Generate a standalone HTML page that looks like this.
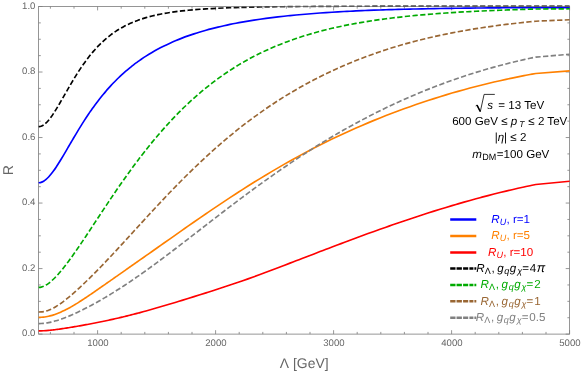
<!DOCTYPE html>
<html><head><meta charset="utf-8"><title>Plot</title>
<style>
html,body{margin:0;padding:0;background:#ffffff;}
body{width:581px;height:373px;position:relative;overflow:hidden;font-family:"Liberation Sans",sans-serif;}
</style></head><body>
<svg width="581" height="373" viewBox="0 0 581 373" style="position:absolute;left:0;top:0;will-change:transform;text-rendering:geometricPrecision">
<defs><linearGradient id="bk" gradientUnits="userSpaceOnUse" x1="215" y1="0" x2="300" y2="0"><stop offset="0" stop-color="#000000"/><stop offset="1" stop-color="#484848"/></linearGradient><clipPath id="c"><rect x="38.15" y="5.00" width="531.90" height="330.60"/></clipPath></defs>
<g stroke="#7c7c7c" stroke-width="0.8" fill="none">
<rect x="38.60" y="6.50" width="531.00" height="327.60"/>
<path d="M50.40,334.10v-2.20 M50.40,6.50v2.20"/>
<path d="M74.00,334.10v-2.20 M74.00,6.50v2.20"/>
<path d="M97.60,334.10v-3.90 M97.60,6.50v3.90"/>
<path d="M121.20,334.10v-2.20 M121.20,6.50v2.20"/>
<path d="M144.80,334.10v-2.20 M144.80,6.50v2.20"/>
<path d="M168.40,334.10v-2.20 M168.40,6.50v2.20"/>
<path d="M192.00,334.10v-2.20 M192.00,6.50v2.20"/>
<path d="M215.60,334.10v-3.90 M215.60,6.50v3.90"/>
<path d="M239.20,334.10v-2.20 M239.20,6.50v2.20"/>
<path d="M262.80,334.10v-2.20 M262.80,6.50v2.20"/>
<path d="M286.40,334.10v-2.20 M286.40,6.50v2.20"/>
<path d="M310.00,334.10v-2.20 M310.00,6.50v2.20"/>
<path d="M333.60,334.10v-3.90 M333.60,6.50v3.90"/>
<path d="M357.20,334.10v-2.20 M357.20,6.50v2.20"/>
<path d="M380.80,334.10v-2.20 M380.80,6.50v2.20"/>
<path d="M404.40,334.10v-2.20 M404.40,6.50v2.20"/>
<path d="M428.00,334.10v-2.20 M428.00,6.50v2.20"/>
<path d="M451.60,334.10v-3.90 M451.60,6.50v3.90"/>
<path d="M475.20,334.10v-2.20 M475.20,6.50v2.20"/>
<path d="M498.80,334.10v-2.20 M498.80,6.50v2.20"/>
<path d="M522.40,334.10v-2.20 M522.40,6.50v2.20"/>
<path d="M546.00,334.10v-2.20 M546.00,6.50v2.20"/>
<path d="M569.60,334.10v-3.90 M569.60,6.50v3.90"/>
<path d="M38.60,334.10h3.90 M569.60,334.10h-3.90"/>
<path d="M38.60,317.72h2.20 M569.60,317.72h-2.20"/>
<path d="M38.60,301.34h2.20 M569.60,301.34h-2.20"/>
<path d="M38.60,284.96h2.20 M569.60,284.96h-2.20"/>
<path d="M38.60,268.58h3.90 M569.60,268.58h-3.90"/>
<path d="M38.60,252.20h2.20 M569.60,252.20h-2.20"/>
<path d="M38.60,235.82h2.20 M569.60,235.82h-2.20"/>
<path d="M38.60,219.44h2.20 M569.60,219.44h-2.20"/>
<path d="M38.60,203.06h3.90 M569.60,203.06h-3.90"/>
<path d="M38.60,186.68h2.20 M569.60,186.68h-2.20"/>
<path d="M38.60,170.30h2.20 M569.60,170.30h-2.20"/>
<path d="M38.60,153.92h2.20 M569.60,153.92h-2.20"/>
<path d="M38.60,137.54h3.90 M569.60,137.54h-3.90"/>
<path d="M38.60,121.16h2.20 M569.60,121.16h-2.20"/>
<path d="M38.60,104.78h2.20 M569.60,104.78h-2.20"/>
<path d="M38.60,88.40h2.20 M569.60,88.40h-2.20"/>
<path d="M38.60,72.02h3.90 M569.60,72.02h-3.90"/>
<path d="M38.60,55.64h2.20 M569.60,55.64h-2.20"/>
<path d="M38.60,39.26h2.20 M569.60,39.26h-2.20"/>
<path d="M38.60,22.88h2.20 M569.60,22.88h-2.20"/>
<path d="M38.60,6.50h3.90 M569.60,6.50h-3.90"/>
</g>
<g fill="none" stroke-linejoin="round" clip-path="url(#c)">
<path d="M38.60,182.80 C39.02,182.73 40.27,182.66 41.10,182.40 C41.93,182.14 42.77,181.75 43.60,181.25 C44.43,180.75 45.27,180.13 46.10,179.42 C46.93,178.71 47.77,177.89 48.60,177.01 C49.43,176.12 50.27,175.14 51.10,174.10 C51.93,173.07 52.77,171.95 53.60,170.79 C54.43,169.64 55.27,168.42 56.10,167.17 C56.93,165.92 57.77,164.61 58.60,163.29 C59.43,161.97 60.27,160.61 61.10,159.24 C61.93,157.87 62.77,156.47 63.60,155.06 C64.43,153.66 65.27,152.24 66.10,150.81 C66.93,149.39 67.77,147.96 68.60,146.53 C69.43,145.11 70.27,143.67 71.10,142.25 C71.93,140.83 72.77,139.41 73.60,138.00 C74.43,136.59 75.27,135.19 76.10,133.80 C76.93,132.41 77.77,131.03 78.60,129.67 C79.43,128.30 80.27,126.95 81.10,125.62 C81.93,124.28 82.77,122.96 83.60,121.66 C84.43,120.36 85.27,119.08 86.10,117.81 C86.93,116.55 87.77,115.30 88.60,114.07 C89.43,112.84 90.27,111.63 91.10,110.43 C91.93,109.24 92.77,108.07 93.60,106.91 C94.43,105.76 95.27,104.62 96.10,103.51 C96.93,102.39 97.77,101.29 98.60,100.22 C99.43,99.14 100.27,98.08 101.10,97.04 C101.93,96.00 102.77,94.97 103.60,93.97 C104.43,92.96 105.27,91.98 106.10,91.01 C106.93,90.04 107.77,89.09 108.60,88.16 C109.43,87.23 110.27,86.31 111.10,85.41 C111.93,84.51 112.77,83.63 113.60,82.76 C114.43,81.90 115.27,81.05 116.10,80.21 C116.93,79.38 117.77,78.56 118.60,77.76 C119.43,76.95 120.27,76.16 121.10,75.39 C121.93,74.62 122.77,73.86 123.60,73.11 C124.43,72.37 125.27,71.64 126.10,70.92 C126.93,70.20 127.77,69.50 128.60,68.81 C129.43,68.12 130.27,67.44 131.10,66.78 C131.93,66.11 132.77,65.46 133.60,64.82 C134.43,64.18 135.27,63.55 136.10,62.93 C136.93,62.31 137.95,61.58 138.60,61.11 C139.25,60.64 138.77,60.96 140.00,60.12 C141.23,59.29 144.00,57.39 146.00,56.11 C148.00,54.83 150.00,53.61 152.00,52.44 C154.00,51.26 156.00,50.15 158.00,49.07 C160.00,47.99 162.00,46.97 164.00,45.98 C166.00,44.99 168.00,44.05 170.00,43.14 C172.00,42.23 174.00,41.36 176.00,40.53 C178.00,39.69 180.00,38.89 182.00,38.12 C184.00,37.35 186.00,36.61 188.00,35.90 C190.00,35.19 192.00,34.51 194.00,33.86 C196.00,33.20 198.00,32.57 200.00,31.96 C202.00,31.36 204.00,30.78 206.00,30.21 C208.00,29.65 210.00,29.12 212.00,28.60 C214.00,28.08 216.00,27.58 218.00,27.10 C220.00,26.61 222.00,26.15 224.00,25.71 C226.00,25.26 228.00,24.83 230.00,24.42 C232.00,24.00 234.00,23.60 236.00,23.22 C238.00,22.83 240.00,22.46 242.00,22.11 C244.00,21.75 246.00,21.40 248.00,21.07 C250.00,20.74 252.00,20.42 254.00,20.11 C256.00,19.80 258.00,19.50 260.00,19.21 C262.00,18.93 264.00,18.65 266.00,18.38 C268.00,18.11 270.00,17.86 272.00,17.61 C274.00,17.36 276.00,17.12 278.00,16.88 C280.00,16.65 282.00,16.43 284.00,16.21 C286.00,15.99 288.00,15.79 290.00,15.58 C292.00,15.38 294.00,15.19 296.00,15.00 C298.00,14.81 300.00,14.63 302.00,14.45 C304.00,14.28 306.00,14.11 308.00,13.95 C310.00,13.78 312.00,13.62 314.00,13.47 C316.00,13.32 318.00,13.17 320.00,13.03 C322.00,12.89 324.00,12.75 326.00,12.62 C328.00,12.49 330.00,12.36 332.00,12.23 C334.00,12.11 336.00,11.99 338.00,11.88 C340.00,11.76 342.00,11.65 344.00,11.54 C346.00,11.44 348.00,11.33 350.00,11.23 C352.00,11.13 354.00,11.04 356.00,10.94 C358.00,10.85 360.00,10.76 362.00,10.67 C364.00,10.59 366.00,10.50 368.00,10.42 C370.00,10.34 372.00,10.26 374.00,10.19 C376.00,10.11 378.00,10.04 380.00,9.97 C382.00,9.90 384.00,9.84 386.00,9.77 C388.00,9.71 390.00,9.64 392.00,9.58 C394.00,9.52 396.00,9.47 398.00,9.41 C400.00,9.35 402.00,9.30 404.00,9.25 C406.00,9.20 408.00,9.15 410.00,9.10 C412.00,9.05 414.00,9.01 416.00,8.96 C418.00,8.92 420.00,8.88 422.00,8.83 C424.00,8.79 426.00,8.75 428.00,8.72 C430.00,8.68 432.00,8.64 434.00,8.61 C436.00,8.57 438.00,8.54 440.00,8.51 C442.00,8.48 444.00,8.45 446.00,8.42 C448.00,8.39 450.00,8.36 452.00,8.33 C454.00,8.30 456.00,8.28 458.00,8.25 C460.00,8.23 462.00,8.20 464.00,8.18 C466.00,8.15 468.00,8.13 470.00,8.11 C472.00,8.08 474.00,8.06 476.00,8.04 C478.00,8.02 480.00,8.00 482.00,7.98 C484.00,7.96 486.00,7.94 488.00,7.92 C490.00,7.90 492.00,7.89 494.00,7.87 C496.00,7.85 498.00,7.84 500.00,7.82 C502.00,7.81 504.00,7.79 506.00,7.78 C508.00,7.77 510.00,7.76 512.00,7.74 C514.00,7.73 516.00,7.72 518.00,7.71 C520.00,7.70 522.00,7.69 524.00,7.69 C526.00,7.68 528.03,7.67 530.00,7.66 C531.97,7.66 534.83,7.65 535.80,7.65 L569.60,7.60" stroke="#0000ff" stroke-width="1.65"/>
<path d="M38.60,317.34 C39.02,317.33 40.27,317.32 41.10,317.27 C41.93,317.22 42.77,317.15 43.60,317.06 C44.43,316.97 45.27,316.85 46.10,316.72 C46.93,316.58 47.77,316.42 48.60,316.24 C49.43,316.06 50.27,315.86 51.10,315.63 C51.93,315.41 52.77,315.16 53.60,314.90 C54.43,314.63 55.27,314.35 56.10,314.05 C56.93,313.74 57.77,313.42 58.60,313.08 C59.43,312.74 60.27,312.39 61.10,312.01 C61.93,311.64 62.77,311.25 63.60,310.85 C64.43,310.45 65.27,310.03 66.10,309.60 C66.93,309.17 67.77,308.72 68.60,308.27 C69.43,307.81 70.27,307.34 71.10,306.87 C71.93,306.39 72.77,305.90 73.60,305.41 C74.43,304.91 75.27,304.40 76.10,303.89 C76.93,303.38 77.77,302.86 78.60,302.33 C79.43,301.81 80.27,301.27 81.10,300.73 C81.93,300.19 82.77,299.65 83.60,299.10 C84.43,298.55 85.27,298.00 86.10,297.45 C86.93,296.89 87.77,296.33 88.60,295.77 C89.43,295.20 90.27,294.64 91.10,294.07 C91.93,293.50 92.77,292.93 93.60,292.36 C94.43,291.79 95.27,291.21 96.10,290.64 C96.93,290.06 97.77,289.49 98.60,288.91 C99.43,288.33 100.27,287.75 101.10,287.17 C101.93,286.59 102.77,286.01 103.60,285.43 C104.43,284.85 105.27,284.27 106.10,283.69 C106.93,283.10 107.77,282.52 108.60,281.94 C109.43,281.36 110.27,280.77 111.10,280.19 C111.93,279.61 112.77,279.02 113.60,278.44 C114.43,277.85 115.27,277.27 116.10,276.69 C116.93,276.10 117.77,275.52 118.60,274.93 C119.43,274.35 120.27,273.77 121.10,273.18 C121.93,272.60 122.77,272.01 123.60,271.43 C124.43,270.84 125.27,270.26 126.10,269.67 C126.93,269.09 127.77,268.50 128.60,267.92 C129.43,267.33 130.27,266.75 131.10,266.16 C131.93,265.58 132.77,264.99 133.60,264.41 C134.43,263.82 135.27,263.24 136.10,262.65 C136.93,262.07 137.95,261.35 138.60,260.89 C139.25,260.44 138.77,260.78 140.00,259.91 C141.23,259.04 144.00,257.10 146.00,255.69 C148.00,254.28 150.00,252.88 152.00,251.47 C154.00,250.06 156.00,248.65 158.00,247.24 C160.00,245.83 162.00,244.43 164.00,243.02 C166.00,241.61 168.00,240.20 170.00,238.80 C172.00,237.39 174.00,235.99 176.00,234.59 C178.00,233.18 180.00,231.78 182.00,230.38 C184.00,228.98 186.00,227.59 188.00,226.19 C190.00,224.80 192.00,223.41 194.00,222.03 C196.00,220.64 198.00,219.26 200.00,217.88 C202.00,216.50 204.00,215.13 206.00,213.76 C208.00,212.40 210.00,211.03 212.00,209.68 C214.00,208.32 216.00,206.97 218.00,205.63 C220.00,204.28 222.00,202.95 224.00,201.62 C226.00,200.29 228.00,198.97 230.00,197.65 C232.00,196.34 234.00,195.03 236.00,193.73 C238.00,192.44 240.00,191.15 242.00,189.86 C244.00,188.58 246.00,187.31 248.00,186.05 C250.00,184.79 252.00,183.53 254.00,182.29 C256.00,181.04 258.00,179.81 260.00,178.58 C262.00,177.36 264.00,176.14 266.00,174.94 C268.00,173.74 270.00,172.54 272.00,171.36 C274.00,170.17 276.00,169.00 278.00,167.84 C280.00,166.67 282.00,165.52 284.00,164.38 C286.00,163.24 288.00,162.11 290.00,160.99 C292.00,159.87 294.00,158.76 296.00,157.66 C298.00,156.57 300.00,155.48 302.00,154.40 C304.00,153.33 306.00,152.26 308.00,151.21 C310.00,150.16 312.00,149.11 314.00,148.08 C316.00,147.05 318.00,146.03 320.00,145.02 C322.00,144.01 324.00,143.01 326.00,142.03 C328.00,141.04 330.00,140.06 332.00,139.10 C334.00,138.13 336.00,137.18 338.00,136.23 C340.00,135.29 342.00,134.36 344.00,133.43 C346.00,132.51 348.00,131.60 350.00,130.70 C352.00,129.80 354.00,128.91 356.00,128.03 C358.00,127.15 360.00,126.28 362.00,125.42 C364.00,124.56 366.00,123.71 368.00,122.87 C370.00,122.03 372.00,121.20 374.00,120.38 C376.00,119.56 378.00,118.75 380.00,117.95 C382.00,117.15 384.00,116.36 386.00,115.58 C388.00,114.80 390.00,114.03 392.00,113.27 C394.00,112.51 396.00,111.76 398.00,111.02 C400.00,110.27 402.00,109.54 404.00,108.81 C406.00,108.09 408.00,107.37 410.00,106.67 C412.00,105.96 414.00,105.26 416.00,104.57 C418.00,103.88 420.00,103.20 422.00,102.53 C424.00,101.86 426.00,101.20 428.00,100.54 C430.00,99.89 432.00,99.24 434.00,98.60 C436.00,97.96 438.00,97.33 440.00,96.71 C442.00,96.09 444.00,95.47 446.00,94.87 C448.00,94.26 450.00,93.67 452.00,93.08 C454.00,92.50 456.00,91.92 458.00,91.35 C460.00,90.78 462.00,90.22 464.00,89.67 C466.00,89.12 468.00,88.58 470.00,88.04 C472.00,87.51 474.00,86.99 476.00,86.47 C478.00,85.95 480.00,85.45 482.00,84.95 C484.00,84.45 486.00,83.96 488.00,83.47 C490.00,82.99 492.00,82.52 494.00,82.05 C496.00,81.59 498.00,81.13 500.00,80.68 C502.00,80.23 504.00,79.79 506.00,79.36 C508.00,78.93 510.00,78.50 512.00,78.09 C514.00,77.67 516.00,77.26 518.00,76.86 C520.00,76.46 522.00,76.07 524.00,75.68 C526.00,75.30 528.03,74.91 530.00,74.55 C531.97,74.19 534.83,73.67 535.80,73.50 L569.60,70.90" stroke="#ff8000" stroke-width="1.65"/>
<path d="M38.60,330.93 C39.02,330.93 40.27,330.92 41.10,330.90 C41.93,330.88 42.77,330.84 43.60,330.79 C44.43,330.75 45.27,330.69 46.10,330.62 C46.93,330.56 47.77,330.49 48.60,330.41 C49.43,330.33 50.27,330.24 51.10,330.15 C51.93,330.06 52.77,329.96 53.60,329.86 C54.43,329.76 55.27,329.66 56.10,329.55 C56.93,329.44 57.77,329.33 58.60,329.21 C59.43,329.09 60.27,328.98 61.10,328.85 C61.93,328.73 62.77,328.61 63.60,328.48 C64.43,328.36 65.27,328.23 66.10,328.10 C66.93,327.97 67.77,327.84 68.60,327.70 C69.43,327.57 70.27,327.43 71.10,327.30 C71.93,327.16 72.77,327.02 73.60,326.88 C74.43,326.74 75.27,326.60 76.10,326.46 C76.93,326.32 77.77,326.17 78.60,326.03 C79.43,325.88 80.27,325.73 81.10,325.59 C81.93,325.44 82.77,325.29 83.60,325.14 C84.43,324.99 85.27,324.83 86.10,324.68 C86.93,324.53 87.77,324.37 88.60,324.22 C89.43,324.06 90.27,323.90 91.10,323.74 C91.93,323.58 92.77,323.42 93.60,323.26 C94.43,323.10 95.27,322.94 96.10,322.77 C96.93,322.61 97.77,322.44 98.60,322.28 C99.43,322.11 100.27,321.94 101.10,321.77 C101.93,321.60 102.77,321.43 103.60,321.25 C104.43,321.08 105.27,320.91 106.10,320.73 C106.93,320.55 107.77,320.37 108.60,320.19 C109.43,320.01 110.27,319.83 111.10,319.65 C111.93,319.47 112.77,319.28 113.60,319.10 C114.43,318.91 115.27,318.72 116.10,318.53 C116.93,318.34 117.77,318.15 118.60,317.96 C119.43,317.76 120.27,317.57 121.10,317.37 C121.93,317.17 122.77,316.98 123.60,316.77 C124.43,316.57 125.27,316.37 126.10,316.17 C126.93,315.96 127.77,315.76 128.60,315.55 C129.43,315.34 130.27,315.13 131.10,314.92 C131.93,314.71 132.77,314.50 133.60,314.28 C134.43,314.07 135.27,313.85 136.10,313.63 C136.93,313.41 137.95,313.14 138.60,312.97 C139.25,312.80 138.77,312.93 140.00,312.60 C141.23,312.26 144.00,311.51 146.00,310.96 C148.00,310.40 150.00,309.84 152.00,309.27 C154.00,308.70 156.00,308.12 158.00,307.54 C160.00,306.96 162.00,306.37 164.00,305.78 C166.00,305.19 168.00,304.59 170.00,303.99 C172.00,303.39 174.00,302.79 176.00,302.19 C178.00,301.58 180.00,300.97 182.00,300.36 C184.00,299.75 186.00,299.14 188.00,298.52 C190.00,297.90 192.00,297.28 194.00,296.66 C196.00,296.04 198.00,295.41 200.00,294.78 C202.00,294.15 204.00,293.52 206.00,292.88 C208.00,292.24 210.00,291.61 212.00,290.96 C214.00,290.32 216.00,289.68 218.00,289.03 C220.00,288.38 222.00,287.73 224.00,287.07 C226.00,286.42 228.00,285.76 230.00,285.09 C232.00,284.42 234.00,283.75 236.00,283.07 C238.00,282.39 240.00,281.71 242.00,281.01 C244.00,280.32 246.00,279.62 248.00,278.90 C250.00,278.19 252.00,277.47 254.00,276.74 C256.00,276.02 258.00,275.28 260.00,274.54 C262.00,273.80 264.00,273.05 266.00,272.30 C268.00,271.55 270.00,270.79 272.00,270.03 C274.00,269.27 276.00,268.51 278.00,267.74 C280.00,266.98 282.00,266.21 284.00,265.44 C286.00,264.67 288.00,263.90 290.00,263.14 C292.00,262.37 294.00,261.60 296.00,260.83 C298.00,260.06 300.00,259.28 302.00,258.51 C304.00,257.74 306.00,256.97 308.00,256.20 C310.00,255.43 312.00,254.66 314.00,253.90 C316.00,253.13 318.00,252.36 320.00,251.59 C322.00,250.83 324.00,250.06 326.00,249.30 C328.00,248.54 330.00,247.77 332.00,247.01 C334.00,246.26 336.00,245.50 338.00,244.74 C340.00,243.99 342.00,243.23 344.00,242.48 C346.00,241.73 348.00,240.98 350.00,240.24 C352.00,239.49 354.00,238.75 356.00,238.01 C358.00,237.27 360.00,236.53 362.00,235.80 C364.00,235.06 366.00,234.33 368.00,233.60 C370.00,232.88 372.00,232.15 374.00,231.43 C376.00,230.71 378.00,230.00 380.00,229.29 C382.00,228.57 384.00,227.86 386.00,227.16 C388.00,226.46 390.00,225.76 392.00,225.06 C394.00,224.36 396.00,223.67 398.00,222.99 C400.00,222.30 402.00,221.62 404.00,220.94 C406.00,220.26 408.00,219.59 410.00,218.92 C412.00,218.25 414.00,217.58 416.00,216.93 C418.00,216.27 420.00,215.61 422.00,214.96 C424.00,214.31 426.00,213.67 428.00,213.03 C430.00,212.39 432.00,211.76 434.00,211.13 C436.00,210.50 438.00,209.88 440.00,209.26 C442.00,208.64 444.00,208.03 446.00,207.42 C448.00,206.81 450.00,206.21 452.00,205.62 C454.00,205.02 456.00,204.44 458.00,203.85 C460.00,203.27 462.00,202.69 464.00,202.12 C466.00,201.55 468.00,200.99 470.00,200.43 C472.00,199.87 474.00,199.32 476.00,198.78 C478.00,198.23 480.00,197.70 482.00,197.16 C484.00,196.63 486.00,196.11 488.00,195.59 C490.00,195.07 492.00,194.56 494.00,194.05 C496.00,193.55 498.00,193.05 500.00,192.56 C502.00,192.07 504.00,191.58 506.00,191.11 C508.00,190.63 510.00,190.16 512.00,189.69 C514.00,189.23 516.00,188.77 518.00,188.32 C520.00,187.87 522.00,187.43 524.00,186.99 C526.00,186.56 528.03,186.12 530.00,185.70 C531.97,185.29 534.83,184.70 535.80,184.50 L569.60,181.20" stroke="#ff0000" stroke-width="1.65"/>
<path d="M38.60,126.64 C39.02,126.58 40.27,126.54 41.10,126.27 C41.93,125.99 42.77,125.55 43.60,125.00 C44.43,124.45 45.27,123.75 46.10,122.95 C46.93,122.16 47.77,121.24 48.60,120.24 C49.43,119.25 50.27,118.15 51.10,117.00 C51.93,115.84 52.77,114.60 53.60,113.33 C54.43,112.07 55.27,110.73 56.10,109.38 C56.93,108.03 57.77,106.63 58.60,105.23 C59.43,103.82 60.27,102.38 61.10,100.95 C61.93,99.51 62.77,98.05 63.60,96.60 C64.43,95.14 65.27,93.68 66.10,92.23 C66.93,90.78 67.77,89.33 68.60,87.89 C69.43,86.45 70.27,85.02 71.10,83.60 C71.93,82.19 72.77,80.79 73.60,79.41 C74.43,78.04 75.27,76.67 76.10,75.34 C76.93,74.00 77.77,72.69 78.60,71.40 C79.43,70.11 80.27,68.85 81.10,67.61 C81.93,66.38 82.77,65.17 83.60,63.98 C84.43,62.80 85.27,61.65 86.10,60.52 C86.93,59.39 87.77,58.29 88.60,57.22 C89.43,56.15 90.27,55.11 91.10,54.09 C91.93,53.08 92.77,52.09 93.60,51.13 C94.43,50.17 95.27,49.24 96.10,48.33 C96.93,47.42 97.77,46.54 98.60,45.69 C99.43,44.83 100.27,44.00 101.10,43.20 C101.93,42.39 102.77,41.61 103.60,40.86 C104.43,40.10 105.27,39.37 106.10,38.66 C106.93,37.95 107.77,37.26 108.60,36.59 C109.43,35.93 110.27,35.28 111.10,34.66 C111.93,34.03 112.77,33.43 113.60,32.84 C114.43,32.26 115.27,31.69 116.10,31.14 C116.93,30.59 117.77,30.06 118.60,29.55 C119.43,29.04 120.27,28.54 121.10,28.06 C121.93,27.58 122.77,27.12 123.60,26.67 C124.43,26.22 125.27,25.79 126.10,25.37 C126.93,24.95 127.77,24.54 128.60,24.15 C129.43,23.76 130.27,23.38 131.10,23.02 C131.93,22.65 132.77,22.30 133.60,21.95 C134.43,21.61 135.27,21.28 136.10,20.96 C136.93,20.64 137.95,20.27 138.60,20.03 C139.25,19.80 138.77,19.94 140.00,19.54 C141.23,19.14 144.00,18.22 146.00,17.63 C148.00,17.05 150.00,16.51 152.00,16.02 C154.00,15.52 156.00,15.06 158.00,14.64 C160.00,14.22 162.00,13.83 164.00,13.47 C166.00,13.11 168.00,12.78 170.00,12.48 C172.00,12.17 174.00,11.89 176.00,11.63 C178.00,11.37 180.00,11.13 182.00,10.91 C184.00,10.68 186.00,10.48 188.00,10.29 C190.00,10.10 192.00,9.92 194.00,9.76 C196.00,9.59 198.00,9.44 200.00,9.30 C202.00,9.16 204.00,9.03 206.00,8.91 C208.00,8.79 210.00,8.67 212.00,8.57 C214.00,8.46 216.00,8.37 218.00,8.28 C220.00,8.19 222.00,8.10 224.00,8.02 C226.00,7.94 228.00,7.87 230.00,7.80 C232.00,7.73 234.00,7.67 236.00,7.61 C238.00,7.55 240.00,7.49 242.00,7.44 C244.00,7.39 246.00,7.34 248.00,7.29 C250.00,7.24 252.00,7.20 254.00,7.16 C256.00,7.12 258.00,7.08 260.00,7.05 C262.00,7.01 264.00,6.98 266.00,6.94 C268.00,6.91 270.00,6.88 272.00,6.85 C274.00,6.83 276.00,6.80 278.00,6.77 C280.00,6.75 282.00,6.73 284.00,6.70 C286.00,6.68 288.00,6.66 290.00,6.64 C292.00,6.62 294.00,6.60 296.00,6.58 C298.00,6.56 300.00,6.55 302.00,6.53 C304.00,6.51 306.00,6.50 308.00,6.48 C310.00,6.47 312.00,6.46 314.00,6.44 C316.00,6.43 318.00,6.42 320.00,6.41 C322.00,6.39 324.00,6.38 326.00,6.37 C328.00,6.36 330.00,6.35 332.00,6.34 C334.00,6.33 336.00,6.32 338.00,6.31 C340.00,6.30 342.00,6.30 344.00,6.29 C346.00,6.28 348.00,6.27 350.00,6.26 C352.00,6.26 354.00,6.25 356.00,6.24 C358.00,6.24 360.00,6.23 362.00,6.22 C364.00,6.22 366.00,6.21 368.00,6.21 C370.00,6.20 372.00,6.20 374.00,6.19 C376.00,6.19 378.00,6.18 380.00,6.18 C382.00,6.17 384.00,6.17 386.00,6.17 C388.00,6.16 390.00,6.16 392.00,6.15 C394.00,6.15 396.00,6.15 398.00,6.14 C400.00,6.14 402.00,6.14 404.00,6.14 C406.00,6.13 408.00,6.13 410.00,6.13 C412.00,6.12 414.00,6.12 416.00,6.12 C418.00,6.12 420.00,6.12 422.00,6.11 C424.00,6.11 426.00,6.11 428.00,6.11 C430.00,6.11 432.00,6.11 434.00,6.11 C436.00,6.10 438.00,6.10 440.00,6.10 C442.00,6.10 444.00,6.10 446.00,6.10 C448.00,6.10 450.00,6.10 452.00,6.10 C454.00,6.10 456.00,6.10 458.00,6.09 C460.00,6.09 462.00,6.09 464.00,6.09 C466.00,6.09 468.00,6.09 470.00,6.09 C472.00,6.09 474.00,6.09 476.00,6.09 C478.00,6.09 480.00,6.09 482.00,6.09 C484.00,6.09 486.00,6.08 488.00,6.08 C490.00,6.08 492.00,6.08 494.00,6.08 C496.00,6.08 498.00,6.08 500.00,6.08 C502.00,6.08 504.00,6.08 506.00,6.08 C508.00,6.08 510.00,6.08 512.00,6.08 C514.00,6.09 516.00,6.09 518.00,6.09 C520.00,6.09 522.00,6.09 524.00,6.09 C526.00,6.09 528.03,6.09 530.00,6.09 C531.97,6.10 534.83,6.10 535.80,6.10 L569.60,6.10" stroke="url(#bk)" stroke-width="1.65" stroke-dasharray="5.3 2.4"/>
<path d="M38.60,287.41 C39.02,287.36 40.27,287.29 41.10,287.10 C41.93,286.91 42.77,286.61 43.60,286.25 C44.43,285.90 45.27,285.45 46.10,284.96 C46.93,284.47 47.77,283.90 48.60,283.29 C49.43,282.68 50.27,282.00 51.10,281.29 C51.93,280.58 52.77,279.81 53.60,279.01 C54.43,278.21 55.27,277.36 56.10,276.49 C56.93,275.61 57.77,274.70 58.60,273.76 C59.43,272.81 60.27,271.84 61.10,270.84 C61.93,269.84 62.77,268.82 63.60,267.77 C64.43,266.72 65.27,265.65 66.10,264.56 C66.93,263.48 67.77,262.37 68.60,261.24 C69.43,260.12 70.27,258.97 71.10,257.82 C71.93,256.66 72.77,255.49 73.60,254.31 C74.43,253.13 75.27,251.93 76.10,250.73 C76.93,249.53 77.77,248.31 78.60,247.09 C79.43,245.87 80.27,244.64 81.10,243.40 C81.93,242.17 82.77,240.92 83.60,239.68 C84.43,238.43 85.27,237.18 86.10,235.92 C86.93,234.66 87.77,233.40 88.60,232.14 C89.43,230.88 90.27,229.61 91.10,228.35 C91.93,227.08 92.77,225.81 93.60,224.55 C94.43,223.28 95.27,222.01 96.10,220.74 C96.93,219.47 97.77,218.20 98.60,216.94 C99.43,215.67 100.27,214.41 101.10,213.14 C101.93,211.88 102.77,210.62 103.60,209.36 C104.43,208.10 105.27,206.85 106.10,205.60 C106.93,204.34 107.77,203.09 108.60,201.85 C109.43,200.60 110.27,199.36 111.10,198.13 C111.93,196.89 112.77,195.66 113.60,194.43 C114.43,193.20 115.27,191.98 116.10,190.76 C116.93,189.54 117.77,188.33 118.60,187.13 C119.43,185.92 120.27,184.72 121.10,183.52 C121.93,182.33 122.77,181.14 123.60,179.96 C124.43,178.77 125.27,177.60 126.10,176.43 C126.93,175.26 127.77,174.09 128.60,172.94 C129.43,171.78 130.27,170.63 131.10,169.49 C131.93,168.35 132.77,167.21 133.60,166.08 C134.43,164.95 135.27,163.83 136.10,162.72 C136.93,161.60 137.95,160.26 138.60,159.40 C139.25,158.54 138.77,159.15 140.00,157.56 C141.23,155.97 144.00,152.37 146.00,149.84 C148.00,147.31 150.00,144.83 152.00,142.39 C154.00,139.96 156.00,137.57 158.00,135.22 C160.00,132.88 162.00,130.59 164.00,128.34 C166.00,126.09 168.00,123.89 170.00,121.73 C172.00,119.58 174.00,117.47 176.00,115.41 C178.00,113.35 180.00,111.33 182.00,109.36 C184.00,107.39 186.00,105.47 188.00,103.59 C190.00,101.71 192.00,99.88 194.00,98.09 C196.00,96.30 198.00,94.56 200.00,92.86 C202.00,91.15 204.00,89.49 206.00,87.88 C208.00,86.26 210.00,84.68 212.00,83.15 C214.00,81.61 216.00,80.12 218.00,78.66 C220.00,77.20 222.00,75.79 224.00,74.41 C226.00,73.03 228.00,71.68 230.00,70.38 C232.00,69.07 234.00,67.80 236.00,66.57 C238.00,65.33 240.00,64.13 242.00,62.96 C244.00,61.80 246.00,60.66 248.00,59.56 C250.00,58.46 252.00,57.39 254.00,56.35 C256.00,55.31 258.00,54.30 260.00,53.32 C262.00,52.34 264.00,51.39 266.00,50.46 C268.00,49.54 270.00,48.64 272.00,47.77 C274.00,46.90 276.00,46.06 278.00,45.24 C280.00,44.42 282.00,43.63 284.00,42.86 C286.00,42.09 288.00,41.34 290.00,40.62 C292.00,39.89 294.00,39.19 296.00,38.51 C298.00,37.83 300.00,37.17 302.00,36.53 C304.00,35.89 306.00,35.27 308.00,34.67 C310.00,34.07 312.00,33.49 314.00,32.92 C316.00,32.36 318.00,31.81 320.00,31.28 C322.00,30.75 324.00,30.24 326.00,29.75 C328.00,29.25 330.00,28.77 332.00,28.30 C334.00,27.84 336.00,27.39 338.00,26.95 C340.00,26.52 342.00,26.09 344.00,25.68 C346.00,25.27 348.00,24.88 350.00,24.49 C352.00,24.11 354.00,23.74 356.00,23.38 C358.00,23.02 360.00,22.67 362.00,22.34 C364.00,22.00 366.00,21.67 368.00,21.36 C370.00,21.04 372.00,20.74 374.00,20.44 C376.00,20.14 378.00,19.86 380.00,19.58 C382.00,19.30 384.00,19.03 386.00,18.77 C388.00,18.51 390.00,18.26 392.00,18.02 C394.00,17.77 396.00,17.54 398.00,17.31 C400.00,17.08 402.00,16.86 404.00,16.64 C406.00,16.43 408.00,16.22 410.00,16.02 C412.00,15.82 414.00,15.63 416.00,15.44 C418.00,15.25 420.00,15.06 422.00,14.89 C424.00,14.71 426.00,14.54 428.00,14.37 C430.00,14.20 432.00,14.04 434.00,13.89 C436.00,13.73 438.00,13.58 440.00,13.43 C442.00,13.28 444.00,13.14 446.00,13.00 C448.00,12.86 450.00,12.73 452.00,12.60 C454.00,12.47 456.00,12.35 458.00,12.23 C460.00,12.11 462.00,11.99 464.00,11.88 C466.00,11.77 468.00,11.67 470.00,11.56 C472.00,11.46 474.00,11.36 476.00,11.26 C478.00,11.17 480.00,11.07 482.00,10.98 C484.00,10.89 486.00,10.80 488.00,10.72 C490.00,10.63 492.00,10.55 494.00,10.47 C496.00,10.39 498.00,10.31 500.00,10.24 C502.00,10.16 504.00,10.08 506.00,10.01 C508.00,9.94 510.00,9.87 512.00,9.80 C514.00,9.73 516.00,9.66 518.00,9.59 C520.00,9.52 522.00,9.45 524.00,9.39 C526.00,9.32 528.03,9.25 530.00,9.19 C531.97,9.12 534.83,9.03 535.80,9.00 L569.60,8.80" stroke="#00aa00" stroke-width="1.65" stroke-dasharray="5.3 2.4"/>
<path d="M38.60,312.06 C39.02,312.04 40.27,312.02 41.10,311.94 C41.93,311.86 42.77,311.74 43.60,311.59 C44.43,311.43 45.27,311.23 46.10,311.00 C46.93,310.77 47.77,310.50 48.60,310.19 C49.43,309.89 50.27,309.54 51.10,309.17 C51.93,308.79 52.77,308.38 53.60,307.94 C54.43,307.50 55.27,307.03 56.10,306.53 C56.93,306.04 57.77,305.51 58.60,304.96 C59.43,304.41 60.27,303.83 61.10,303.24 C61.93,302.65 62.77,302.03 63.60,301.40 C64.43,300.77 65.27,300.12 66.10,299.45 C66.93,298.79 67.77,298.10 68.60,297.41 C69.43,296.72 70.27,296.01 71.10,295.30 C71.93,294.58 72.77,293.85 73.60,293.12 C74.43,292.38 75.27,291.63 76.10,290.88 C76.93,290.13 77.77,289.37 78.60,288.60 C79.43,287.83 80.27,287.05 81.10,286.27 C81.93,285.49 82.77,284.70 83.60,283.90 C84.43,283.11 85.27,282.31 86.10,281.50 C86.93,280.69 87.77,279.88 88.60,279.06 C89.43,278.25 90.27,277.42 91.10,276.60 C91.93,275.77 92.77,274.94 93.60,274.10 C94.43,273.27 95.27,272.42 96.10,271.58 C96.93,270.73 97.77,269.88 98.60,269.03 C99.43,268.18 100.27,267.32 101.10,266.46 C101.93,265.59 102.77,264.73 103.60,263.86 C104.43,262.99 105.27,262.12 106.10,261.24 C106.93,260.37 107.77,259.49 108.60,258.60 C109.43,257.72 110.27,256.83 111.10,255.95 C111.93,255.06 112.77,254.17 113.60,253.27 C114.43,252.38 115.27,251.48 116.10,250.59 C116.93,249.69 117.77,248.79 118.60,247.88 C119.43,246.98 120.27,246.08 121.10,245.17 C121.93,244.27 122.77,243.36 123.60,242.45 C124.43,241.54 125.27,240.64 126.10,239.72 C126.93,238.81 127.77,237.90 128.60,236.99 C129.43,236.08 130.27,235.17 131.10,234.26 C131.93,233.34 132.77,232.43 133.60,231.52 C134.43,230.60 135.27,229.69 136.10,228.78 C136.93,227.86 137.95,226.75 138.60,226.04 C139.25,225.33 138.77,225.85 140.00,224.51 C141.23,223.16 144.00,220.13 146.00,217.95 C148.00,215.78 150.00,213.60 152.00,211.44 C154.00,209.28 156.00,207.12 158.00,204.98 C160.00,202.84 162.00,200.71 164.00,198.60 C166.00,196.49 168.00,194.38 170.00,192.30 C172.00,190.22 174.00,188.15 176.00,186.10 C178.00,184.06 180.00,182.03 182.00,180.02 C184.00,178.01 186.00,176.01 188.00,174.04 C190.00,172.07 192.00,170.12 194.00,168.19 C196.00,166.26 198.00,164.36 200.00,162.47 C202.00,160.58 204.00,158.72 206.00,156.88 C208.00,155.03 210.00,153.21 212.00,151.42 C214.00,149.62 216.00,147.84 218.00,146.09 C220.00,144.34 222.00,142.61 224.00,140.91 C226.00,139.21 228.00,137.53 230.00,135.87 C232.00,134.22 234.00,132.58 236.00,130.98 C238.00,129.37 240.00,127.78 242.00,126.22 C244.00,124.66 246.00,123.13 248.00,121.62 C250.00,120.10 252.00,118.61 254.00,117.15 C256.00,115.68 258.00,114.24 260.00,112.82 C262.00,111.40 264.00,110.01 266.00,108.63 C268.00,107.26 270.00,105.91 272.00,104.58 C274.00,103.25 276.00,101.95 278.00,100.66 C280.00,99.38 282.00,98.11 284.00,96.87 C286.00,95.63 288.00,94.41 290.00,93.21 C292.00,92.01 294.00,90.84 296.00,89.68 C298.00,88.52 300.00,87.38 302.00,86.26 C304.00,85.14 306.00,84.05 308.00,82.97 C310.00,81.89 312.00,80.83 314.00,79.79 C316.00,78.75 318.00,77.73 320.00,76.72 C322.00,75.72 324.00,74.73 326.00,73.77 C328.00,72.80 330.00,71.85 332.00,70.92 C334.00,69.99 336.00,69.07 338.00,68.17 C340.00,67.28 342.00,66.40 344.00,65.53 C346.00,64.67 348.00,63.82 350.00,62.99 C352.00,62.16 354.00,61.35 356.00,60.55 C358.00,59.75 360.00,58.96 362.00,58.20 C364.00,57.43 366.00,56.68 368.00,55.94 C370.00,55.20 372.00,54.48 374.00,53.77 C376.00,53.07 378.00,52.38 380.00,51.70 C382.00,51.02 384.00,50.36 386.00,49.71 C388.00,49.06 390.00,48.42 392.00,47.80 C394.00,47.18 396.00,46.58 398.00,45.98 C400.00,45.39 402.00,44.81 404.00,44.24 C406.00,43.68 408.00,43.12 410.00,42.58 C412.00,42.04 414.00,41.51 416.00,41.00 C418.00,40.48 420.00,39.97 422.00,39.48 C424.00,38.99 426.00,38.51 428.00,38.04 C430.00,37.57 432.00,37.11 434.00,36.66 C436.00,36.21 438.00,35.77 440.00,35.34 C442.00,34.91 444.00,34.50 446.00,34.09 C448.00,33.68 450.00,33.28 452.00,32.89 C454.00,32.50 456.00,32.12 458.00,31.75 C460.00,31.38 462.00,31.02 464.00,30.67 C466.00,30.32 468.00,29.97 470.00,29.64 C472.00,29.30 474.00,28.97 476.00,28.65 C478.00,28.33 480.00,28.02 482.00,27.72 C484.00,27.41 486.00,27.12 488.00,26.83 C490.00,26.54 492.00,26.26 494.00,25.98 C496.00,25.71 498.00,25.44 500.00,25.18 C502.00,24.92 504.00,24.67 506.00,24.42 C508.00,24.17 510.00,23.93 512.00,23.70 C514.00,23.47 516.00,23.24 518.00,23.02 C520.00,22.80 522.00,22.58 524.00,22.37 C526.00,22.16 528.03,21.95 530.00,21.76 C531.97,21.56 534.83,21.29 535.80,21.20 L569.60,19.75" stroke="#996633" stroke-width="1.65" stroke-dasharray="5.3 2.4"/>
<path d="M38.60,323.58 C39.02,323.56 40.27,323.55 41.10,323.50 C41.93,323.46 42.77,323.40 43.60,323.31 C44.43,323.23 45.27,323.13 46.10,323.01 C46.93,322.89 47.77,322.75 48.60,322.60 C49.43,322.44 50.27,322.27 51.10,322.08 C51.93,321.89 52.77,321.69 53.60,321.47 C54.43,321.26 55.27,321.02 56.10,320.78 C56.93,320.54 57.77,320.28 58.60,320.01 C59.43,319.74 60.27,319.46 61.10,319.17 C61.93,318.88 62.77,318.57 63.60,318.26 C64.43,317.95 65.27,317.63 66.10,317.30 C66.93,316.97 67.77,316.63 68.60,316.29 C69.43,315.94 70.27,315.59 71.10,315.23 C71.93,314.87 72.77,314.50 73.60,314.12 C74.43,313.75 75.27,313.37 76.10,312.98 C76.93,312.59 77.77,312.20 78.60,311.80 C79.43,311.40 80.27,311.00 81.10,310.59 C81.93,310.18 82.77,309.77 83.60,309.35 C84.43,308.93 85.27,308.50 86.10,308.07 C86.93,307.64 87.77,307.21 88.60,306.77 C89.43,306.33 90.27,305.89 91.10,305.44 C91.93,304.99 92.77,304.54 93.60,304.08 C94.43,303.63 95.27,303.16 96.10,302.70 C96.93,302.24 97.77,301.77 98.60,301.29 C99.43,300.82 100.27,300.34 101.10,299.86 C101.93,299.38 102.77,298.90 103.60,298.41 C104.43,297.92 105.27,297.43 106.10,296.93 C106.93,296.43 107.77,295.93 108.60,295.43 C109.43,294.92 110.27,294.42 111.10,293.91 C111.93,293.39 112.77,292.88 113.60,292.36 C114.43,291.84 115.27,291.32 116.10,290.79 C116.93,290.27 117.77,289.74 118.60,289.21 C119.43,288.68 120.27,288.14 121.10,287.60 C121.93,287.06 122.77,286.52 123.60,285.97 C124.43,285.43 125.27,284.88 126.10,284.33 C126.93,283.77 127.77,283.22 128.60,282.66 C129.43,282.10 130.27,281.54 131.10,280.98 C131.93,280.41 132.77,279.84 133.60,279.27 C134.43,278.70 135.27,278.13 136.10,277.55 C136.93,276.98 137.95,276.27 138.60,275.82 C139.25,275.37 138.77,275.71 140.00,274.84 C141.23,273.97 144.00,272.02 146.00,270.59 C148.00,269.16 150.00,267.71 152.00,266.25 C154.00,264.80 156.00,263.32 158.00,261.84 C160.00,260.36 162.00,258.87 164.00,257.37 C166.00,255.87 168.00,254.36 170.00,252.85 C172.00,251.33 174.00,249.81 176.00,248.28 C178.00,246.75 180.00,245.22 182.00,243.68 C184.00,242.14 186.00,240.59 188.00,239.05 C190.00,237.50 192.00,235.95 194.00,234.41 C196.00,232.86 198.00,231.30 200.00,229.75 C202.00,228.20 204.00,226.65 206.00,225.10 C208.00,223.55 210.00,222.01 212.00,220.46 C214.00,218.92 216.00,217.37 218.00,215.83 C220.00,214.29 222.00,212.76 224.00,211.23 C226.00,209.70 228.00,208.17 230.00,206.65 C232.00,205.13 234.00,203.62 236.00,202.11 C238.00,200.60 240.00,199.10 242.00,197.61 C244.00,196.11 246.00,194.62 248.00,193.15 C250.00,191.67 252.00,190.19 254.00,188.73 C256.00,187.27 258.00,185.81 260.00,184.37 C262.00,182.92 264.00,181.49 266.00,180.06 C268.00,178.63 270.00,177.22 272.00,175.81 C274.00,174.40 276.00,173.00 278.00,171.61 C280.00,170.22 282.00,168.85 284.00,167.48 C286.00,166.11 288.00,164.75 290.00,163.41 C292.00,162.06 294.00,160.72 296.00,159.40 C298.00,158.07 300.00,156.76 302.00,155.46 C304.00,154.15 306.00,152.86 308.00,151.58 C310.00,150.30 312.00,149.03 314.00,147.78 C316.00,146.52 318.00,145.28 320.00,144.05 C322.00,142.81 324.00,141.59 326.00,140.38 C328.00,139.18 330.00,137.98 332.00,136.80 C334.00,135.61 336.00,134.44 338.00,133.28 C340.00,132.12 342.00,130.97 344.00,129.84 C346.00,128.71 348.00,127.58 350.00,126.47 C352.00,125.36 354.00,124.26 356.00,123.18 C358.00,122.09 360.00,121.02 362.00,119.96 C364.00,118.90 366.00,117.85 368.00,116.81 C370.00,115.78 372.00,114.75 374.00,113.74 C376.00,112.73 378.00,111.73 380.00,110.74 C382.00,109.76 384.00,108.78 386.00,107.82 C388.00,106.86 390.00,105.91 392.00,104.97 C394.00,104.03 396.00,103.10 398.00,102.19 C400.00,101.27 402.00,100.37 404.00,99.48 C406.00,98.59 408.00,97.71 410.00,96.84 C412.00,95.98 414.00,95.12 416.00,94.28 C418.00,93.44 420.00,92.61 422.00,91.79 C424.00,90.97 426.00,90.16 428.00,89.36 C430.00,88.56 432.00,87.78 434.00,87.01 C436.00,86.23 438.00,85.47 440.00,84.72 C442.00,83.97 444.00,83.23 446.00,82.50 C448.00,81.77 450.00,81.06 452.00,80.35 C454.00,79.64 456.00,78.95 458.00,78.26 C460.00,77.58 462.00,76.91 464.00,76.25 C466.00,75.58 468.00,74.93 470.00,74.29 C472.00,73.65 474.00,73.03 476.00,72.41 C478.00,71.79 480.00,71.18 482.00,70.58 C484.00,69.99 486.00,69.40 488.00,68.83 C490.00,68.25 492.00,67.69 494.00,67.13 C496.00,66.58 498.00,66.04 500.00,65.50 C502.00,64.97 504.00,64.45 506.00,63.94 C508.00,63.43 510.00,62.93 512.00,62.44 C514.00,61.95 516.00,61.47 518.00,61.00 C520.00,60.53 522.00,60.07 524.00,59.62 C526.00,59.17 528.03,58.73 530.00,58.31 C531.97,57.89 534.83,57.30 535.80,57.10 L569.60,54.30" stroke="#808080" stroke-width="1.65" stroke-dasharray="5.3 2.4"/>
</g>
<path d="M230,6.50H569.60" fill="none" stroke="#a0a0a0" stroke-width="0.6" opacity="0.4"/>
<g font-family="Liberation Sans, sans-serif" font-size="9.6" fill="#666666">
<text x="97.90" y="346.4" text-anchor="middle">1000</text>
<text x="215.90" y="346.4" text-anchor="middle">2000</text>
<text x="333.90" y="346.4" text-anchor="middle">3000</text>
<text x="451.90" y="346.4" text-anchor="middle">4000</text>
<text x="569.90" y="346.4" text-anchor="middle">5000</text>
<text x="35.4" y="336.30" text-anchor="end">0.0</text>
<text x="35.4" y="270.78" text-anchor="end">0.2</text>
<text x="35.4" y="205.26" text-anchor="end">0.4</text>
<text x="35.4" y="139.74" text-anchor="end">0.6</text>
<text x="35.4" y="74.22" text-anchor="end">0.8</text>
<text x="35.4" y="8.70" text-anchor="end">1.0</text>
</g>
<g font-family="Liberation Sans, sans-serif" font-size="14.2" fill="#666666">
<text x="304.2" y="368.4" font-size="13.9" text-anchor="middle" word-spacing="0.8">&#923; [GeV]</text>
<text transform="translate(13.0,170.0) rotate(-90)" text-anchor="middle">R</text>
</g>
<g font-family="Liberation Sans, sans-serif" font-size="11.6" fill="#000">
<path d="M475.7,105.9 L477.1,105.0 L480.3,111.6 L484.1,94.4 L494.8,94.4" fill="none" stroke="#000" stroke-width="0.8" stroke-linejoin="miter"/>
<path d="M477.0,105.1 L480.2,111.5" fill="none" stroke="#000" stroke-width="1.5"/>
<text x="487.3" y="108.9" font-style="italic">s</text>
<text x="498.3" y="108.9">= 13 TeV</text>
<text x="517.2" y="124.6" text-anchor="end">600 GeV &#8804; <tspan font-style="italic">p</tspan></text>
<text x="519.2" y="126.5" font-style="italic" font-size="8.4">T</text>
<text x="528.3" y="124.6">&#8804; 2 TeV</text>
<text x="510.5" y="141.4" text-anchor="middle">|<tspan font-style="italic">&#951;</tspan>| &#8804; 2</text>
<text x="510.8" y="157.6" text-anchor="middle"><tspan font-style="italic">m</tspan><tspan font-size="9.0" dy="1.9" dx="0.3">DM</tspan><tspan dy="-1.9" dx="0.6">=100 GeV</tspan></text>
</g>
<path d="M450.2,219.50H476.3" stroke="#0000ff" stroke-width="2.5" fill="none"/>
<text x="510.6" y="222.80" font-family="Liberation Sans, sans-serif" font-size="11.6" fill="#0000ff" text-anchor="middle"><tspan font-style="italic">R</tspan><tspan font-style="italic" font-size="9.0" dy="1.9" dx="0.2">U</tspan><tspan dy="-1.9" dx="0.3">, r=1</tspan></text>
<path d="M450.2,236.00H476.3" stroke="#ff8000" stroke-width="2.5" fill="none"/>
<text x="510.6" y="239.30" font-family="Liberation Sans, sans-serif" font-size="11.6" fill="#ff8000" text-anchor="middle"><tspan font-style="italic">R</tspan><tspan font-style="italic" font-size="9.0" dy="1.9" dx="0.2">U</tspan><tspan dy="-1.9" dx="0.3">, r=5</tspan></text>
<path d="M450.2,252.50H476.3" stroke="#ff0000" stroke-width="2.5" fill="none"/>
<text x="510.6" y="255.80" font-family="Liberation Sans, sans-serif" font-size="11.6" fill="#ff0000" text-anchor="middle"><tspan font-style="italic">R</tspan><tspan font-style="italic" font-size="9.0" dy="1.9" dx="0.2">U</tspan><tspan dy="-1.9" dx="0.3">, r=10</tspan></text>
<path d="M450.2,268.60H476.3" stroke="#000000" stroke-width="2.5" stroke-dasharray="5.3 1.05 5.35 1.2 5.1 1.2 4.0 1.0 2.0 9" fill="none"/>
<text x="510.6" y="271.90" font-family="Liberation Sans, sans-serif" font-size="11.6" fill="#000000" text-anchor="middle"><tspan font-style="italic">R</tspan><tspan font-size="9.0" dy="1.9" dx="0.2">&#923;</tspan><tspan dy="-1.9" dx="0.7">,</tspan><tspan font-style="italic" dx="2.5">g</tspan><tspan font-style="italic" font-size="9.0" dy="1.9" dx="0.6">q</tspan><tspan font-style="italic" dy="-1.9" dx="0.5">g</tspan><tspan font-style="italic" font-size="9.0" dy="1.9" dx="1.0">&#967;</tspan><tspan dy="-1.9" dx="0.1">=</tspan><tspan dx="0.8">4<tspan font-style="italic" dx="0.4" font-size="12.6">&#960;</tspan></tspan></text>
<path d="M450.2,285.00H476.3" stroke="#00aa00" stroke-width="2.5" stroke-dasharray="5.3 1.05 5.35 1.2 5.1 1.2 4.0 1.0 2.0 9" fill="none"/>
<text x="510.6" y="288.30" font-family="Liberation Sans, sans-serif" font-size="11.6" fill="#00aa00" text-anchor="middle"><tspan font-style="italic">R</tspan><tspan font-size="9.0" dy="1.9" dx="0.2">&#923;</tspan><tspan dy="-1.9" dx="0.7">,</tspan><tspan font-style="italic" dx="2.5">g</tspan><tspan font-style="italic" font-size="9.0" dy="1.9" dx="0.6">q</tspan><tspan font-style="italic" dy="-1.9" dx="0.5">g</tspan><tspan font-style="italic" font-size="9.0" dy="1.9" dx="1.0">&#967;</tspan><tspan dy="-1.9" dx="0.1">=</tspan><tspan dx="0.8">2</tspan></text>
<path d="M450.2,301.30H476.3" stroke="#996633" stroke-width="2.5" stroke-dasharray="5.3 1.05 5.35 1.2 5.1 1.2 4.0 1.0 2.0 9" fill="none"/>
<text x="510.6" y="304.60" font-family="Liberation Sans, sans-serif" font-size="11.6" fill="#996633" text-anchor="middle"><tspan font-style="italic">R</tspan><tspan font-size="9.0" dy="1.9" dx="0.2">&#923;</tspan><tspan dy="-1.9" dx="0.7">,</tspan><tspan font-style="italic" dx="2.5">g</tspan><tspan font-style="italic" font-size="9.0" dy="1.9" dx="0.6">q</tspan><tspan font-style="italic" dy="-1.9" dx="0.5">g</tspan><tspan font-style="italic" font-size="9.0" dy="1.9" dx="1.0">&#967;</tspan><tspan dy="-1.9" dx="0.1">=</tspan><tspan dx="0.8">1</tspan></text>
<path d="M450.2,317.70H476.3" stroke="#808080" stroke-width="2.5" stroke-dasharray="5.3 1.05 5.35 1.2 5.1 1.2 4.0 1.0 2.0 9" fill="none"/>
<text x="510.6" y="321.00" font-family="Liberation Sans, sans-serif" font-size="11.6" fill="#808080" text-anchor="middle"><tspan font-style="italic">R</tspan><tspan font-size="9.0" dy="1.9" dx="0.2">&#923;</tspan><tspan dy="-1.9" dx="0.7">,</tspan><tspan font-style="italic" dx="2.5">g</tspan><tspan font-style="italic" font-size="9.0" dy="1.9" dx="0.6">q</tspan><tspan font-style="italic" dy="-1.9" dx="0.5">g</tspan><tspan font-style="italic" font-size="9.0" dy="1.9" dx="1.0">&#967;</tspan><tspan dy="-1.9" dx="0.1">=</tspan><tspan dx="0.8">0.5</tspan></text>
</svg>
</body></html>
